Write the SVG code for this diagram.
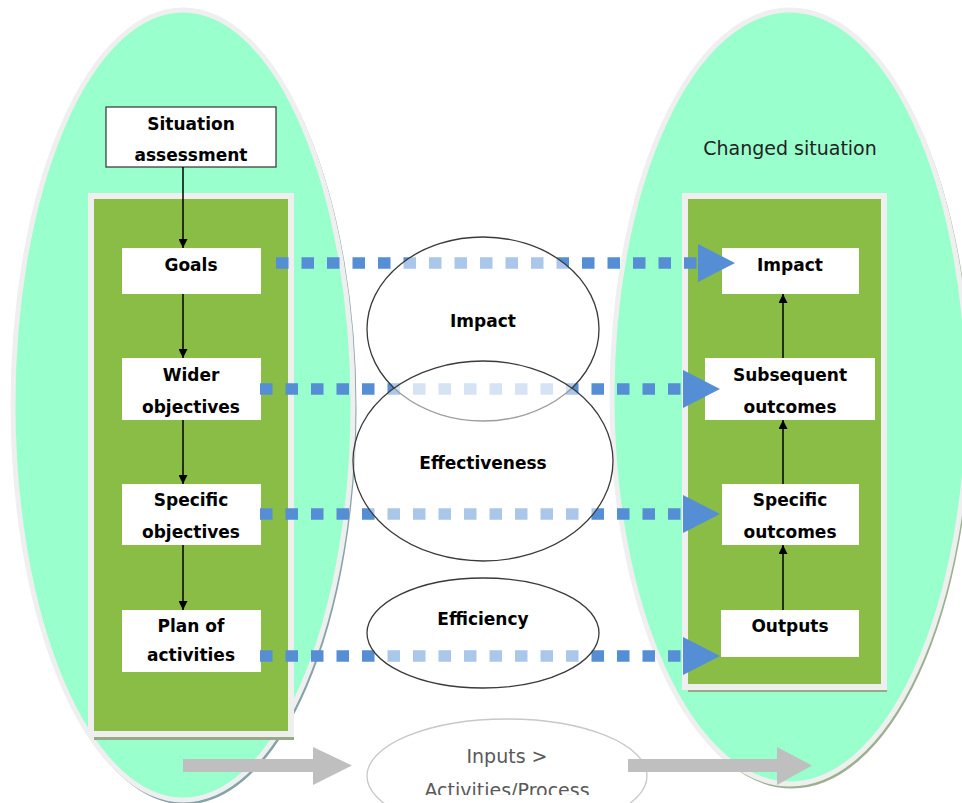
<svg xmlns="http://www.w3.org/2000/svg" width="962" height="803" viewBox="0 0 962 803">
  <defs>
    <style>
      .zone { fill: #99ffcc; stroke: #efefef; stroke-width: 5; }
      .zone-shadow { fill: none; stroke-width: 3; }
      .panel { fill: #88be3f; fill-opacity: 0.93; stroke: #efefef; stroke-width: 6; }
      .panel-shadow { fill: #98a98a; }
      .box { fill: #ffffff; }
      .boxed { fill: #ffffff; stroke: #333333; stroke-width: 1.2; }
      .lbl { font-family: "DejaVu Sans", Verdana, sans-serif; font-weight: bold; font-size: 17px; fill: #000000; text-anchor: middle; }
      .plain { font-family: "DejaVu Sans", Verdana, sans-serif; font-size: 19px; fill: #222222; text-anchor: middle; }
      .measure { fill: #ffffff; fill-opacity: 0.5; stroke: #3a3a3a; stroke-width: 1.3; }
      .flow { fill: none; stroke: #558ed5; stroke-width: 11.5; stroke-dasharray: 12.5 13; }
      .flowhead { fill: #558ed5; }
      .link { stroke: #000000; stroke-width: 1.5; fill: none; }
      .grey-arrow { fill: #bfbfbf; }
      .process { fill: #ffffff; stroke: #c8c8c8; stroke-width: 1.3; }
      .proctext { font-family: "DejaVu Sans", Verdana, sans-serif; font-size: 19px; fill: #595959; text-anchor: middle; }
    </style>
    <marker id="tip" viewBox="0 0 10 10" refX="10" refY="5" markerWidth="9" markerHeight="9" markerUnits="userSpaceOnUse" orient="auto">
      <path d="M0,0 L10,5 L0,10 Z" fill="#000000"/>
    </marker>
    <clipPath id="text-clip">
      <rect x="0" y="0" width="962" height="795"/>
    </clipPath>
  </defs>

  <!-- starting situation zone -->
  <g id="start-zone">
    <ellipse class="zone-shadow" cx="185" cy="408" rx="170" ry="395" stroke="#86a3aa"/>
    <ellipse class="zone" cx="183" cy="405" rx="170" ry="395"/>
  </g>

  <!-- changed situation zone -->
  <g id="changed-zone">
    <ellipse class="zone-shadow" cx="792" cy="400" rx="178" ry="387" stroke="#9cb092"/>
    <ellipse class="zone" cx="790" cy="397" rx="178" ry="387"/>
    <text class="plain" x="790" y="155">Changed situation</text>
  </g>

  <!-- planning panel -->
  <g id="plan-panel">
    <rect class="panel-shadow" x="94" y="199" width="200" height="541"/>
    <rect class="panel" x="91" y="196" width="200" height="538"/>
  </g>

  <!-- results panel -->
  <g id="result-panel">
    <rect class="panel-shadow" x="688" y="199" width="199" height="493"/>
    <rect class="panel" x="685" y="196" width="199" height="491"/>
  </g>

  <!-- inputs / process -->
  <g id="process">
    <ellipse class="process" cx="507" cy="776" rx="140" ry="57"/>
    <g clip-path="url(#text-clip)">
      <text class="proctext" x="507" y="763">Inputs &gt;</text>
      <text class="proctext" x="507" y="797">Activities/Process</text>
    </g>
  </g>

  <!-- bottom process arrows -->
  <g id="process-arrows">
    <polygon class="grey-arrow" points="183,759 313,759 313,747 352,765.5 313,785 313,772 183,772"/>
    <polygon class="grey-arrow" points="628,759 777,759 777,747 812,765.5 777,785 777,772 628,772"/>
  </g>

  <!-- left column nodes -->
  <g id="situation-assessment">
    <rect class="boxed" x="106" y="107" width="170" height="60"/>
    <text class="lbl" x="191" y="130">Situation</text>
    <text class="lbl" x="191" y="161">assessment</text>
  </g>
  <g id="goals">
    <rect class="box" x="122" y="248" width="139" height="46"/>
    <text class="lbl" x="191" y="271">Goals</text>
  </g>
  <g id="wider-objectives">
    <rect class="box" x="122" y="358" width="139" height="62"/>
    <text class="lbl" x="191" y="381">Wider</text>
    <text class="lbl" x="191" y="413">objectives</text>
  </g>
  <g id="specific-objectives">
    <rect class="box" x="122" y="484" width="139" height="61"/>
    <text class="lbl" x="191" y="506">Specific</text>
    <text class="lbl" x="191" y="538">objectives</text>
  </g>
  <g id="plan-of-activities">
    <rect class="box" x="122" y="610" width="139" height="62"/>
    <text class="lbl" x="191" y="632">Plan of</text>
    <text class="lbl" x="191" y="661">activities</text>
  </g>

  <!-- right column nodes -->
  <g id="impact-result">
    <rect class="box" x="722" y="248" width="137" height="46"/>
    <text class="lbl" x="790" y="271">Impact</text>
  </g>
  <g id="subsequent-outcomes">
    <rect class="box" x="705" y="358" width="170" height="62"/>
    <text class="lbl" x="790" y="381">Subsequent</text>
    <text class="lbl" x="790" y="413">outcomes</text>
  </g>
  <g id="specific-outcomes">
    <rect class="box" x="722" y="484" width="137" height="61"/>
    <text class="lbl" x="790" y="506">Specific</text>
    <text class="lbl" x="790" y="538">outcomes</text>
  </g>
  <g id="outputs">
    <rect class="box" x="721" y="610" width="138" height="47"/>
    <text class="lbl" x="790" y="632">Outputs</text>
  </g>

  <!-- connectors -->
  <g id="connectors">
    <line class="link" x1="183" y1="167" x2="183" y2="248" marker-end="url(#tip)"/>
    <line class="link" x1="183" y1="294" x2="183" y2="358" marker-end="url(#tip)"/>
    <line class="link" x1="183" y1="420" x2="183" y2="484" marker-end="url(#tip)"/>
    <line class="link" x1="183" y1="545" x2="183" y2="610" marker-end="url(#tip)"/>

    <line class="link" x1="783" y1="610" x2="783" y2="545" marker-end="url(#tip)"/>
    <line class="link" x1="783" y1="484" x2="783" y2="420" marker-end="url(#tip)"/>
    <line class="link" x1="783" y1="358" x2="783" y2="294" marker-end="url(#tip)"/>

    <line class="flow" x1="276" y1="263" x2="698" y2="263"/>
    <polygon class="flowhead" points="698,244 735,263 698,282"/>
    <line class="flow" x1="260" y1="389" x2="683" y2="389"/>
    <polygon class="flowhead" points="683,370 720,389 683,408"/>
    <line class="flow" x1="260" y1="514" x2="683" y2="514"/>
    <polygon class="flowhead" points="683,495 720,514 683,533"/>
    <line class="flow" x1="260" y1="656" x2="683" y2="656"/>
    <polygon class="flowhead" points="683,637 720,656 683,675"/>
  </g>

  <!-- evaluation criteria -->
  <g id="impact-criterion">
    <ellipse class="measure" cx="483" cy="329" rx="116" ry="92"/>
    <text class="lbl" x="483" y="327">Impact</text>
  </g>
  <g id="effectiveness-criterion">
    <ellipse class="measure" cx="483" cy="461" rx="130" ry="100"/>
    <text class="lbl" x="483" y="469">Effectiveness</text>
  </g>
  <g id="efficiency-criterion">
    <ellipse class="measure" cx="483" cy="633" rx="116" ry="55"/>
    <text class="lbl" x="483" y="625">Efficiency</text>
  </g>
</svg>
